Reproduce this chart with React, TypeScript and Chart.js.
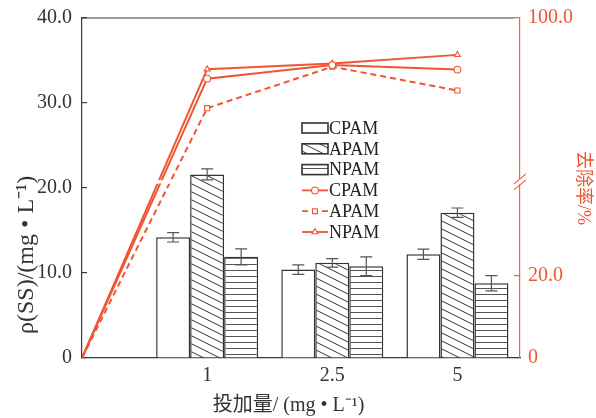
import React, { useEffect, useRef } from 'react';
import { Chart, registerables, LinearScale } from 'chart.js';

Chart.register(...registerables);

// ---------- data ----------
const DOSE_LABELS = ['1', '2.5', '5'];
const BAR_X = [1, 2, 3];
const LINE_X = [0, 1, 2, 3];
const SERIES = ['CPAM', 'APAM', 'NPAM'];
const SS_CPAM = [14.2, 10.4, 12.2];
const SS_APAM = [21.6, 11.2, 17.1];
const SS_NPAM = [11.9, 10.8, 8.8];
const ERR_CPAM = [0.55, 0.55, 0.6];
const ERR_APAM = [0.65, 0.5, 0.55];
const ERR_NPAM = [0.95, 1.1, 0.9];
const RATE_CPAM = [0, 85.2, 88.5, 87.4];
const RATE_APAM = [0, 78.0, 88.1, 82.3];
const RATE_NPAM = [0, 87.5, 88.9, 91.0];
const LEFT_TICKS = [0, 10, 20, 30, 40];
const RIGHT_TICKS = [0, 20, 100];
const RATE_BREAK = [40, 60];
const RATE_MAX = 100;

// ---------- style ----------
const ORANGE = '#ef5533';
const ORANGE_AXIS = '#f06445';
const DARK = '#3a3a3a';
const FONT_FAMILY = "'Liberation Serif', 'Times New Roman', 'Noto Sans CJK SC', serif";
const LOW_FRAC = 0.482;
const HIGH_FRAC = 0.518;

function rateToDecimal(v: number): number {
  const [lo, hi] = RATE_BREAK;
  if (v <= lo) return (v / lo) * LOW_FRAC;
  if (v >= hi) return HIGH_FRAC + ((v - hi) / (RATE_MAX - hi)) * (1 - HIGH_FRAC);
  return LOW_FRAC + ((v - lo) / (hi - lo)) * (HIGH_FRAC - LOW_FRAC);
}
function decimalToRate(d: number): number {
  const [lo, hi] = RATE_BREAK;
  if (d <= LOW_FRAC) return (d / LOW_FRAC) * lo;
  if (d >= HIGH_FRAC) return hi + ((d - HIGH_FRAC) / (1 - HIGH_FRAC)) * (RATE_MAX - hi);
  return lo + ((d - LOW_FRAC) / (HIGH_FRAC - LOW_FRAC)) * (hi - lo);
}

class BrokenLinearScale extends LinearScale {
  static id = 'brokenLinear';
  static defaults = {};
  getPixelForValue(value: number) {
    if (value === null || value === undefined || isNaN(value)) return NaN;
    return (this as any).getPixelForDecimal(rateToDecimal(value));
  }
  getValueForPixel(pixel: number) {
    return decimalToRate((this as any).getDecimalForPixel(pixel));
  }
}
Chart.register(BrokenLinearScale as any);

function makeDiagPattern(ctx: CanvasRenderingContext2D): CanvasPattern {
  const c = document.createElement('canvas');
  c.width = 16;
  c.height = 8;
  const g = c.getContext('2d')!;
  g.fillStyle = '#fff';
  g.fillRect(0, 0, 16, 8);
  g.strokeStyle = '#333';
  g.lineWidth = 1;
  g.beginPath();
  for (const dy of [-8, 0, 8]) {
    g.moveTo(0, dy);
    g.lineTo(16, dy + 8);
  }
  g.stroke();
  return ctx.createPattern(c, 'repeat')!;
}

function makeHorizPattern(ctx: CanvasRenderingContext2D): CanvasPattern {
  const c = document.createElement('canvas');
  c.width = 4;
  c.height = 6;
  const g = c.getContext('2d')!;
  g.fillStyle = '#fff';
  g.fillRect(0, 0, 4, 6);
  g.strokeStyle = '#555';
  g.lineWidth = 1;
  g.beginPath();
  g.moveTo(0, 0.5);
  g.lineTo(4, 0.5);
  g.stroke();
  return ctx.createPattern(c, 'repeat')!;
}

function drawMarker(ctx: CanvasRenderingContext2D, style: string, x: number, y: number, r: number) {
  ctx.beginPath();
  if (style === 'circle') {
    ctx.arc(x, y, r, 0, Math.PI * 2);
  } else if (style === 'rect') {
    const s = r / Math.SQRT2;
    ctx.rect(x - s, y - s, 2 * s, 2 * s);
  } else {
    const h = r * 1.5;
    ctx.moveTo(x, y - h * 0.67);
    ctx.lineTo(x + r * 0.9, y + h * 0.33);
    ctx.lineTo(x - r * 0.9, y + h * 0.33);
    ctx.closePath();
  }
  ctx.fillStyle = '#fff';
  ctx.fill();
  ctx.stroke();
}

const errorBarPlugin = {
  id: 'errorBars',
  afterDatasetsDraw(chart: any) {
    const ctx = chart.ctx as CanvasRenderingContext2D;
    const yScale = chart.scales.y;
    chart.data.datasets.forEach((ds: any, i: number) => {
      if (!ds.errors) return;
      const meta = chart.getDatasetMeta(i);
      meta.data.forEach((bar: any, j: number) => {
        const v = ds.data[j].y;
        const e = ds.errors[j];
        const yt = yScale.getPixelForValue(v + e);
        const yb = yScale.getPixelForValue(v - e);
        ctx.save();
        ctx.strokeStyle = '#555';
        ctx.lineWidth = 1.2;
        ctx.beginPath();
        ctx.moveTo(bar.x, yt);
        ctx.lineTo(bar.x, yb);
        ctx.moveTo(bar.x - 6, yt);
        ctx.lineTo(bar.x + 6, yt);
        ctx.moveTo(bar.x - 6, yb);
        ctx.lineTo(bar.x + 6, yb);
        ctx.stroke();
        ctx.restore();
      });
    });
  },
};

const breakPlugin = {
  id: 'axisBreak',
  afterDatasetDraw(chart: any, args: any) {
    if (args.meta.type !== 'line') return;
    const ctx = chart.ctx as CanvasRenderingContext2D;
    const area = chart.chartArea;
    const yb = chart.scales.y1.getPixelForValue(RATE_BREAK[1]);
    ctx.save();
    ctx.fillStyle = '#fff';
    ctx.fillRect(area.left + 1, yb - 1.6, area.right - area.left - 2, 3.2);
    ctx.restore();
  },
  afterDraw(chart: any) {
    const ctx = chart.ctx as CanvasRenderingContext2D;
    const area = chart.chartArea;
    const yb = chart.scales.y1.getPixelForValue(RATE_BREAK[1]);
    ctx.save();
    ctx.strokeStyle = DARK;
    ctx.lineWidth = 1.2;
    ctx.beginPath();
    ctx.moveTo(area.left, area.top);
    ctx.lineTo(area.right - 6, area.top);
    ctx.stroke();
    const x = area.right;
    ctx.fillStyle = '#fff';
    ctx.fillRect(x - 3, yb - 2.5, 6, 5);
    ctx.strokeStyle = ORANGE_AXIS;
    ctx.lineWidth = 1.2;
    ctx.beginPath();
    ctx.moveTo(x - 6, yb + 2);
    ctx.lineTo(x + 6, yb - 8);
    ctx.moveTo(x - 6, yb + 8);
    ctx.lineTo(x + 6, yb - 2);
    ctx.stroke();
    ctx.restore();
  },
};

const legendPlugin = {
  id: 'innerLegend',
  afterDraw(chart: any) {
    const ctx = chart.ctx as CanvasRenderingContext2D;
    const x0 = 302;
    const y0 = 128;
    const dy = 20.8;
    const w = 26;
    ctx.save();
    chart.data.datasets.forEach((ds: any, i: number) => {
      const y = y0 + i * dy;
      if (ds.type === 'bar') {
        ctx.fillStyle = ds.backgroundColor;
        ctx.fillRect(x0, y - 5, w, 10);
        ctx.strokeStyle = '#333';
        ctx.lineWidth = 1.6;
        ctx.strokeRect(x0, y - 5, w, 10);
      } else {
        ctx.strokeStyle = ORANGE;
        ctx.lineWidth = 1.8;
        ctx.setLineDash(ds.borderDash || []);
        ctx.beginPath();
        ctx.moveTo(x0, y);
        ctx.lineTo(x0 + w, y);
        ctx.stroke();
        ctx.setLineDash([]);
        ctx.lineWidth = 1.1;
        drawMarker(ctx, ds.pointStyle, x0 + w / 2, y, 3.4);
      }
      ctx.fillStyle = '#222';
      ctx.font = `18px ${FONT_FAMILY}`;
      ctx.textBaseline = 'middle';
      ctx.textAlign = 'left';
      ctx.fillText(ds.label, x0 + w + 1, y + 1);
    });
    ctx.restore();
  },
};

export default function App() {
  const ref = useRef<HTMLCanvasElement>(null);
  useEffect(() => {
    document.body.style.margin = '0';
    const canvas = ref.current!;
    const ctx = canvas.getContext('2d')!;
    const diag = makeDiagPattern(ctx);
    const horiz = makeHorizPattern(ctx);
    const fills = ['#ffffff', diag, horiz];
    const ssSeries = [SS_CPAM, SS_APAM, SS_NPAM];
    const errSeries = [ERR_CPAM, ERR_APAM, ERR_NPAM];
    const rateSeries = [RATE_CPAM, RATE_APAM, RATE_NPAM];
    const pointStyles = ['circle', 'rect', 'triangle'];
    const dashes = [[], [6, 4], []];
    const tickFont = { family: FONT_FAMILY, size: 20 };
    const leftTitleFont = { family: FONT_FAMILY, size: 24 };
    const rightTitleFont = { family: FONT_FAMILY, size: 18 };

    const barSets = SERIES.map((label, k) => ({
      type: 'bar',
      label,
      data: ssSeries[k].map((v, i) => ({ x: BAR_X[i], y: v })),
      errors: errSeries[k],
      backgroundColor: fills[k],
      borderColor: '#333',
      borderWidth: 1.5,
      categoryPercentage: 0.815,
      barPercentage: 1,
      xAxisID: 'x',
      yAxisID: 'y',
      order: 0,
    }));
    const lineSets = SERIES.map((label, k) => ({
      type: 'line',
      label,
      data: rateSeries[k].map((v, i) => ({ x: LINE_X[i], y: v })),
      borderColor: ORANGE,
      borderWidth: 2,
      borderDash: dashes[k],
      pointStyle: pointStyles[k],
      pointRadius: rateSeries[k].map((_, i) => (i === 0 ? 0 : k === 1 ? 3.6 : 3.4)),
      pointBackgroundColor: '#fff',
      pointBorderColor: ORANGE,
      pointBorderWidth: 1.1,
      tension: 0,
      fill: false,
      xAxisID: 'x',
      yAxisID: 'y1',
      order: 1,
    }));

    const noVPadding = (s: any, w: number) => {
      s.width = w;
      s.paddingTop = 0;
      s.paddingBottom = 0;
    };

    const chart = new Chart(canvas, {
      type: 'bar',
      data: { datasets: [...barSets, ...lineSets] as any },
      options: {
        responsive: false,
        animation: false,
        devicePixelRatio: 1,
        layout: { padding: { top: 18, left: 0, right: 0, bottom: 0 } },
        plugins: { legend: { display: false }, tooltip: { enabled: false } },
        scales: {
          x: {
            type: 'linear',
            min: 0,
            max: 3.5,
            offset: false,
            grid: { display: false, drawTicks: false, tickLength: 0, offset: false },
            border: { display: true, color: DARK, width: 1.2 },
            afterBuildTicks: (s: any) => {
              s.ticks = BAR_X.map((v) => ({ value: v }));
            },
            ticks: {
              callback: (v: any) => DOSE_LABELS[BAR_X.indexOf(Number(v))] ?? '',
              font: tickFont,
              color: '#333',
              padding: 6,
              maxRotation: 0,
              autoSkip: false,
            },
            title: {
              display: true,
              text: '投加量/ (mg • L⁻¹)     ',
              font: tickFont,
              color: '#333',
              padding: { top: 0, bottom: 0 },
            },
            afterFit: (s: any) => {
              s.height = 60;
              s.paddingLeft = 0;
              s.paddingRight = 0;
            },
          },
          y: {
            type: 'linear',
            position: 'left',
            min: 0,
            max: 40,
            afterBuildTicks: (s: any) => {
              s.ticks = LEFT_TICKS.map((v) => ({ value: v }));
            },
            grid: { drawOnChartArea: false, drawTicks: true, tickLength: -5, color: DARK, lineWidth: 1.2 },
            border: { display: true, color: DARK, width: 1.2 },
            ticks: {
              callback: (v: any) => (Number(v) === 0 ? '0' : Number(v).toFixed(1)),
              font: tickFont,
              color: '#333',
              padding: 15,
            },
            title: {
              display: true,
              text: '    ρ(SS)/(mg • L⁻¹)',
              align: 'start',
              font: leftTitleFont,
              color: '#333',
              padding: { top: 12, bottom: 0 },
            },
            afterFit: (s: any) => noVPadding(s, 82),
          },
          y1: {
            type: 'brokenLinear' as any,
            position: 'right',
            min: 0,
            max: RATE_MAX,
            afterBuildTicks: (s: any) => {
              s.ticks = RIGHT_TICKS.map((v) => ({ value: v }));
            },
            grid: { drawOnChartArea: false, drawTicks: true, tickLength: -6, color: ORANGE_AXIS, lineWidth: 1.2 },
            border: { display: true, color: ORANGE_AXIS, width: 1.2 },
            ticks: {
              callback: (v: any) => (Number(v) === 0 ? '0' : Number(v).toFixed(1)),
              font: tickFont,
              color: ORANGE,
              padding: 14,
            },
            title: {
              display: true,
              text: '去除率/%',
              font: rightTitleFont,
              color: ORANGE,
              padding: { top: 2, bottom: 0 },
            },
            afterFit: (s: any) => noVPadding(s, 76),
          },
        } as any,
      },
      plugins: [breakPlugin, errorBarPlugin, legendPlugin],
    } as any);
    return () => chart.destroy();
  }, []);
  return (
    <div style={{ width: 596, height: 418 }}>
      <canvas ref={ref} width={596} height={418} style={{ display: 'block' }} />
    </div>
  );
}
